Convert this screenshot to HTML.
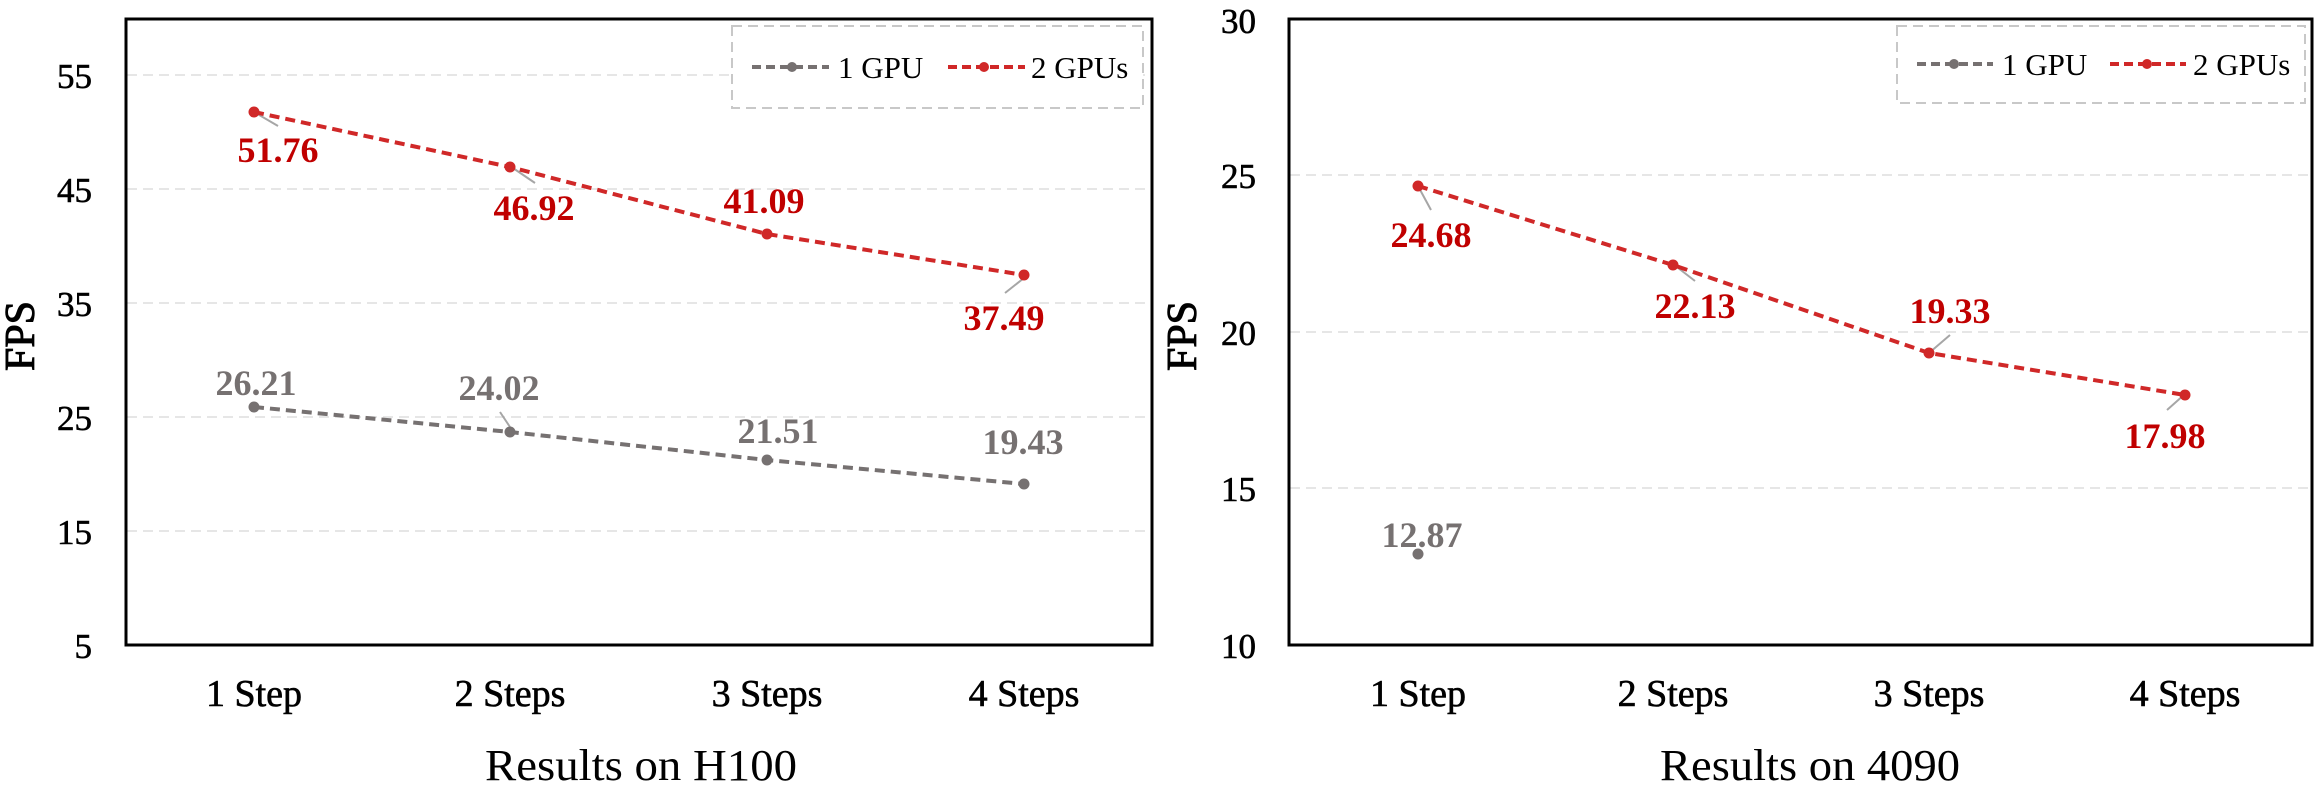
<!DOCTYPE html>
<html><head><meta charset="utf-8"><style>
html,body{margin:0;padding:0;background:#fff;}
svg{display:block;}
text{font-family:"Liberation Serif",serif;}
</style></head><body>
<svg width="2324" height="789" viewBox="0 0 2324 789" xmlns="http://www.w3.org/2000/svg">
<!-- LEFT CHART -->
<g>
  <g stroke="#e6e6e6" stroke-width="2" stroke-dasharray="10,6">
    <line x1="127" y1="75" x2="1152" y2="75"/>
    <line x1="127" y1="189" x2="1152" y2="189"/>
    <line x1="127" y1="303" x2="1152" y2="303"/>
    <line x1="127" y1="417" x2="1152" y2="417"/>
    <line x1="127" y1="531" x2="1152" y2="531"/>
  </g>
  <rect x="126" y="19" width="1026" height="626" fill="none" stroke="#000" stroke-width="3"/>
  <g font-size="35" text-anchor="end" fill="#000" stroke="#000" stroke-width="0.6">
    <text x="92" y="88">55</text>
    <text x="92" y="202">45</text>
    <text x="92" y="316">35</text>
    <text x="92" y="430">25</text>
    <text x="92" y="544">15</text>
    <text x="92" y="658">5</text>
  </g>
  <text transform="translate(34,336) rotate(-90)" font-size="42" text-anchor="middle" stroke="#000" stroke-width="1">FPS</text>
  <g font-size="38" text-anchor="middle" stroke="#000" stroke-width="0.6">
    <text x="254" y="706">1 Step</text>
    <text x="510" y="706">2 Steps</text>
    <text x="767" y="706">3 Steps</text>
    <text x="1024" y="706">4 Steps</text>
  </g>
  <text x="641" y="780" font-size="44" text-anchor="middle" textLength="312" lengthAdjust="spacingAndGlyphs">Results on H100</text>
  <!-- legend -->
  <rect x="732" y="26" width="411" height="82" fill="#fff" stroke="#c8c8c8" stroke-width="2" stroke-dasharray="10,6"/>
  <line x1="752" y1="67" x2="829" y2="67" stroke="#767171" stroke-width="4" stroke-dasharray="9,5"/>
  <circle cx="792" cy="67" r="5" fill="#767171"/>
  <text x="838" y="78" font-size="31">1 GPU</text>
  <line x1="948" y1="67" x2="1025" y2="67" stroke="#d02828" stroke-width="4" stroke-dasharray="9,5"/>
  <circle cx="984" cy="67" r="5" fill="#d02828"/>
  <text x="1031" y="78" font-size="31">2 GPUs</text>
  <!-- leaders -->
  <g stroke="#a6a6a6" stroke-width="2">
    <line x1="254" y1="112" x2="278" y2="126"/>
    <line x1="510" y1="166" x2="535" y2="183"/>
    <line x1="1024" y1="278" x2="1005" y2="293"/>
    <line x1="500" y1="412" x2="510" y2="427"/>
  </g>
  <!-- series -->
  <polyline points="254,407 510,432 767,460 1024,484" fill="none" stroke="#767171" stroke-width="4" stroke-dasharray="10,6"/>
  <g fill="#767171"><circle cx="254" cy="407" r="5.5"/><circle cx="510" cy="432" r="5.5"/><circle cx="767" cy="460" r="5.5"/><circle cx="1024" cy="484" r="5.5"/></g>
  <polyline points="254,112 510,167 767,234 1024,275" fill="none" stroke="#d02828" stroke-width="4" stroke-dasharray="10,6"/>
  <g fill="#d02828"><circle cx="254" cy="112" r="5.5"/><circle cx="510" cy="167" r="5.5"/><circle cx="767" cy="234" r="5.5"/><circle cx="1024" cy="275" r="5.5"/></g>
  <g font-size="36" font-weight="bold" text-anchor="middle" fill="#c00000">
    <text x="278" y="162">51.76</text>
    <text x="534" y="220">46.92</text>
    <text x="764" y="213">41.09</text>
    <text x="1004" y="330">37.49</text>
  </g>
  <g font-size="36" font-weight="bold" text-anchor="middle" fill="#767171">
    <text x="256" y="395">26.21</text>
    <text x="499" y="400">24.02</text>
    <text x="778" y="443">21.51</text>
    <text x="1023" y="454">19.43</text>
  </g>
</g>
<!-- RIGHT CHART -->
<g>
  <g stroke="#e6e6e6" stroke-width="2" stroke-dasharray="10,6">
    <line x1="1290" y1="175" x2="2312" y2="175"/>
    <line x1="1290" y1="332" x2="2312" y2="332"/>
    <line x1="1290" y1="488" x2="2312" y2="488"/>
  </g>
  <rect x="1289" y="19" width="1023" height="626" fill="none" stroke="#000" stroke-width="3"/>
  <g font-size="35" text-anchor="end" fill="#000" stroke="#000" stroke-width="0.6">
    <text x="1256" y="33">30</text>
    <text x="1256" y="188">25</text>
    <text x="1256" y="345">20</text>
    <text x="1256" y="501">15</text>
    <text x="1256" y="658">10</text>
  </g>
  <text transform="translate(1196,336) rotate(-90)" font-size="42" text-anchor="middle" stroke="#000" stroke-width="1">FPS</text>
  <g font-size="38" text-anchor="middle" stroke="#000" stroke-width="0.6">
    <text x="1418" y="706">1 Step</text>
    <text x="1673" y="706">2 Steps</text>
    <text x="1929" y="706">3 Steps</text>
    <text x="2185" y="706">4 Steps</text>
  </g>
  <text x="1810" y="780" font-size="44" text-anchor="middle" textLength="300" lengthAdjust="spacingAndGlyphs">Results on 4090</text>
  <rect x="1897" y="26" width="408" height="77" fill="#fff" stroke="#c8c8c8" stroke-width="2" stroke-dasharray="10,6"/>
  <line x1="1917" y1="64" x2="1993" y2="64" stroke="#767171" stroke-width="4" stroke-dasharray="9,5"/>
  <circle cx="1954" cy="64" r="5" fill="#767171"/>
  <text x="2002" y="75" font-size="31">1 GPU</text>
  <line x1="2110" y1="64" x2="2186" y2="64" stroke="#d02828" stroke-width="4" stroke-dasharray="9,5"/>
  <circle cx="2147" cy="64" r="5" fill="#d02828"/>
  <text x="2193" y="75" font-size="31">2 GPUs</text>
  <g stroke="#a6a6a6" stroke-width="2">
    <line x1="1418" y1="186" x2="1431" y2="210"/>
    <line x1="1673" y1="264" x2="1695" y2="281"/>
    <line x1="1929" y1="353" x2="1950" y2="335"/>
    <line x1="2185" y1="394" x2="2167" y2="410"/>
  </g>
  <polyline points="1418,186 1673,265 1929,353 2185,395" fill="none" stroke="#d02828" stroke-width="4" stroke-dasharray="10,6"/>
  <g fill="#d02828"><circle cx="1418" cy="186" r="5.5"/><circle cx="1673" cy="265" r="5.5"/><circle cx="1929" cy="353" r="5.5"/><circle cx="2185" cy="395" r="5.5"/></g>
  <circle cx="1418" cy="554" r="5.5" fill="#767171"/>
  <g font-size="36" font-weight="bold" text-anchor="middle" fill="#c00000">
    <text x="1431" y="247">24.68</text>
    <text x="1695" y="318">22.13</text>
    <text x="1950" y="323">19.33</text>
    <text x="2165" y="448">17.98</text>
  </g>
  <text x="1422" y="547" font-size="36" font-weight="bold" text-anchor="middle" fill="#767171">12.87</text>
</g>
</svg>
</body></html>
